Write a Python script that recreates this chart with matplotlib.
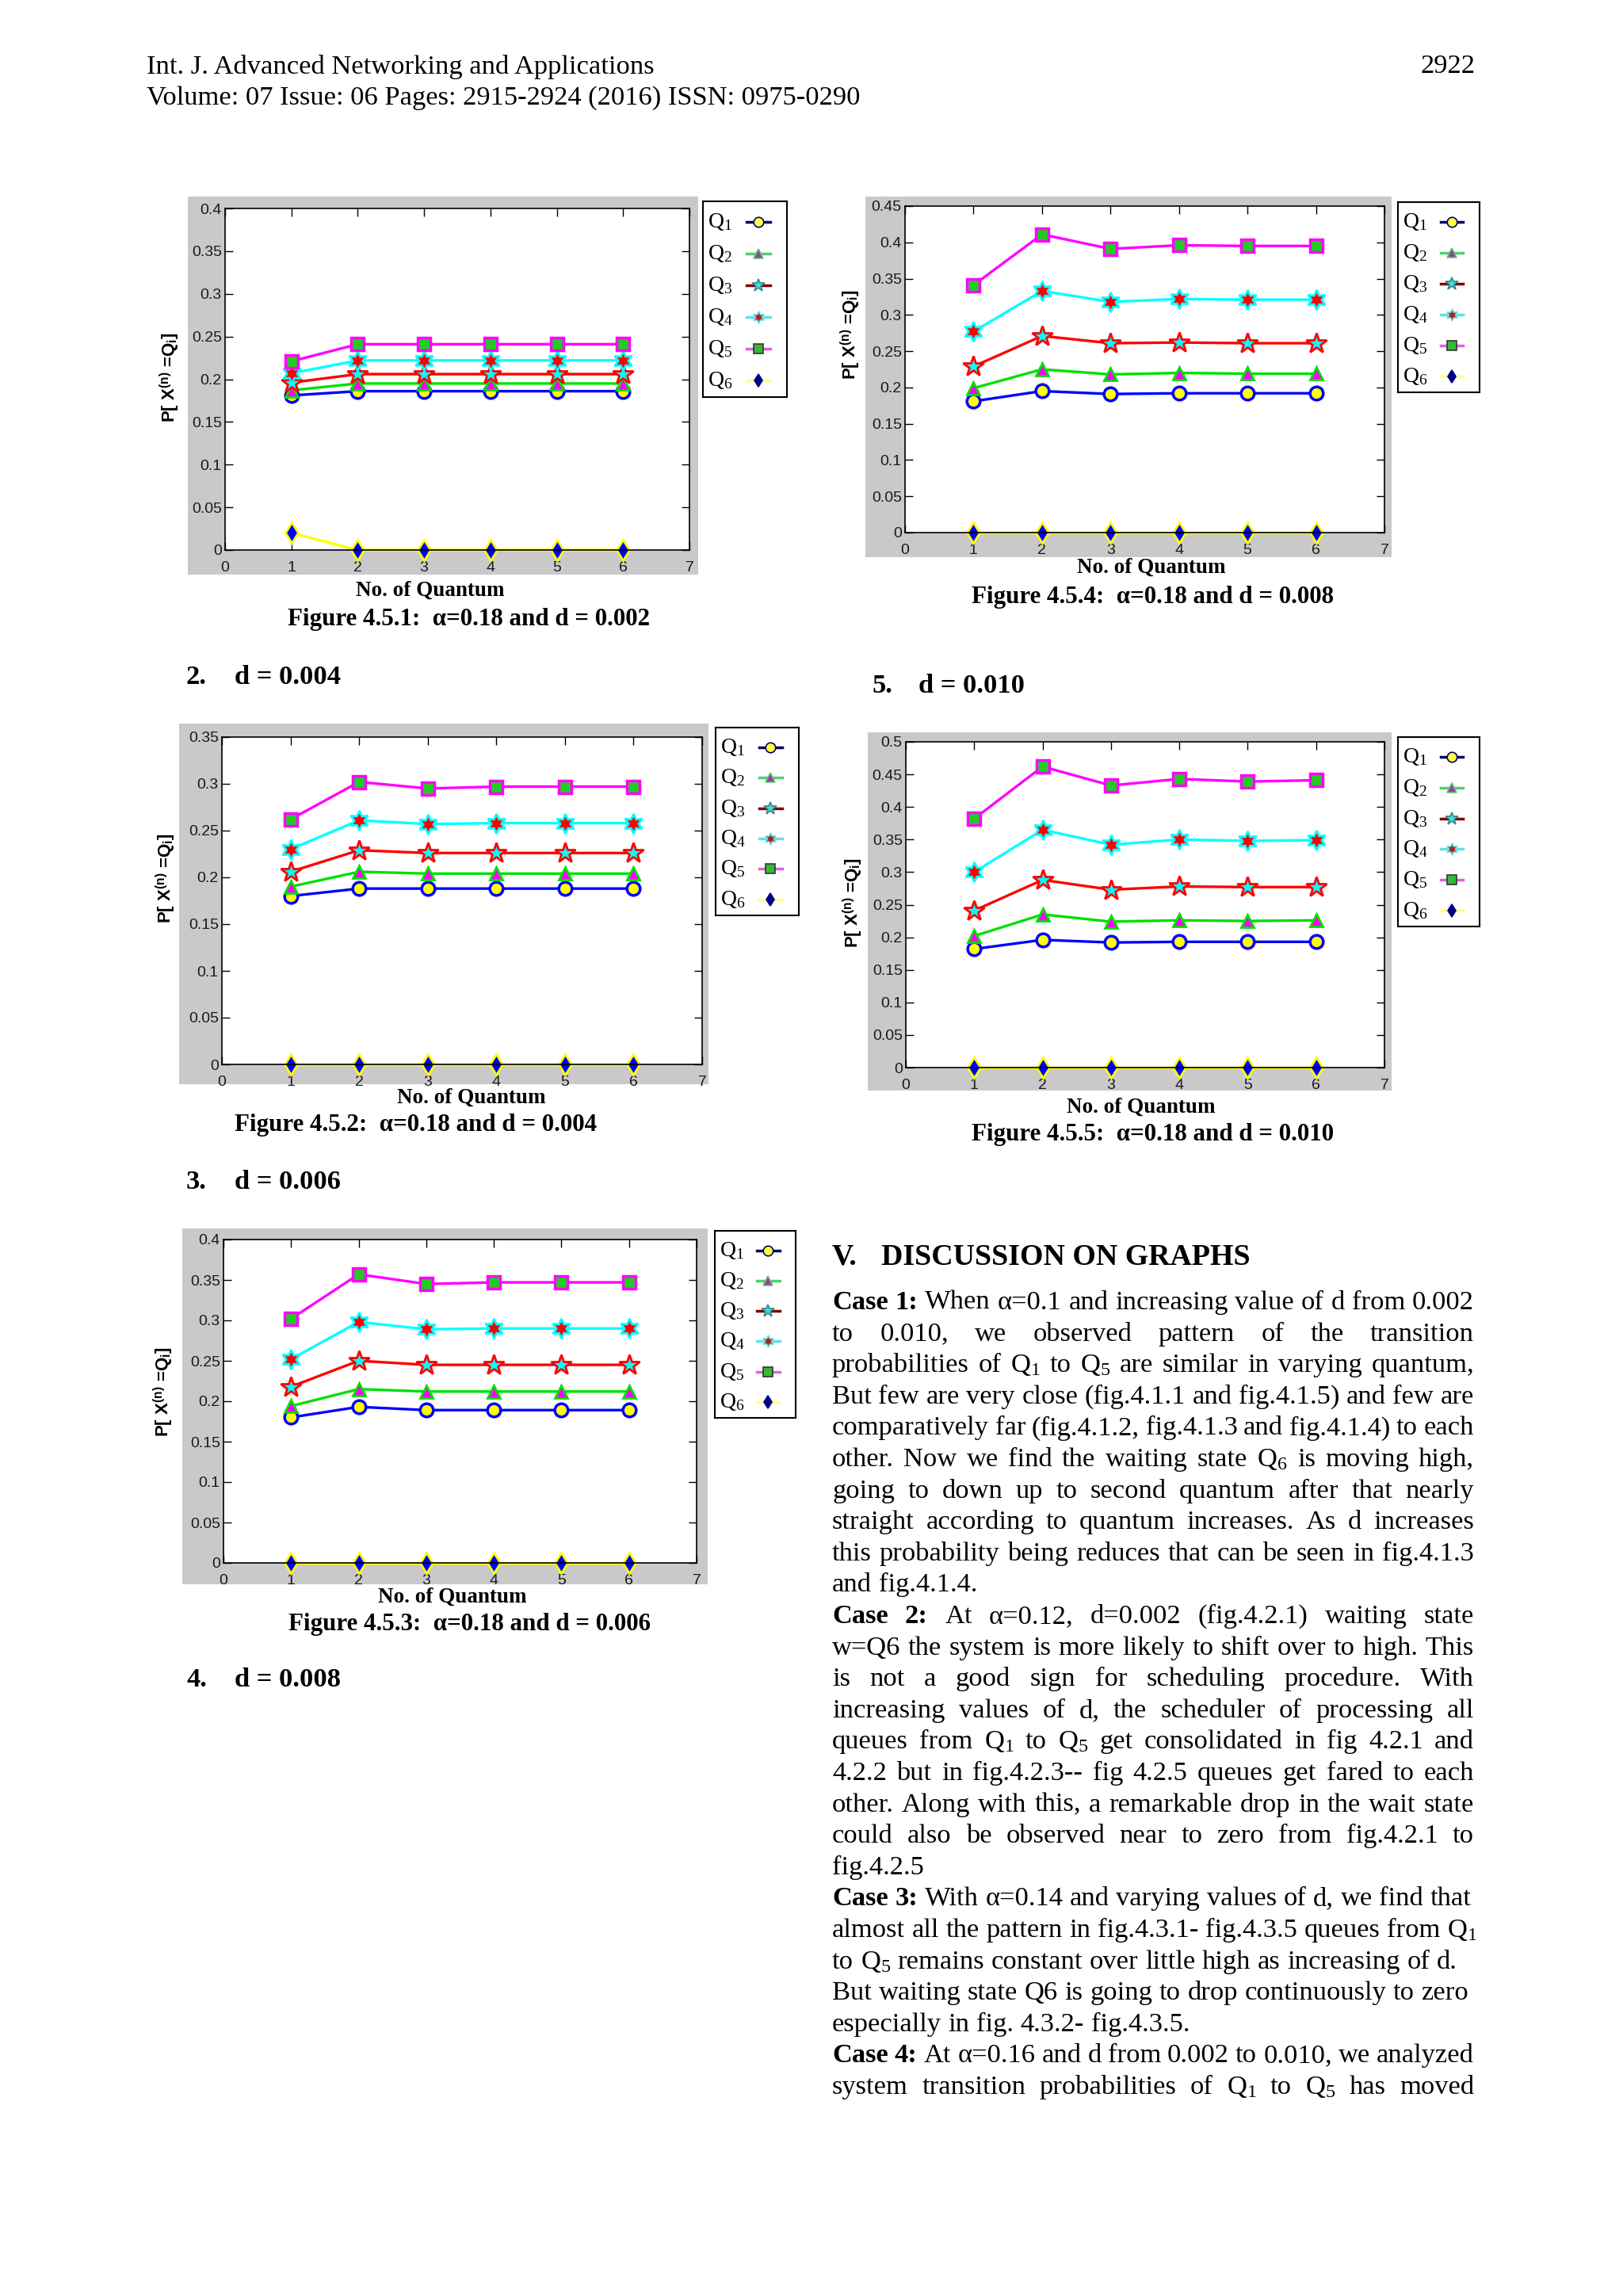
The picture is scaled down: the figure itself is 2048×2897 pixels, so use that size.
import numpy as np
import matplotlib
matplotlib.use('Agg')
import matplotlib.pyplot as plt
from matplotlib.patches import Rectangle

plt.rcParams['mathtext.fontset'] = 'custom'
plt.rcParams['mathtext.rm'] = 'Liberation Serif'
plt.rcParams['mathtext.it'] = 'Liberation Serif:italic'
plt.rcParams['mathtext.bf'] = 'Liberation Serif:bold'
plt.rcParams['mathtext.sf'] = 'Liberation Sans:bold'
plt.rcParams['mathtext.default'] = 'rm'

W, H = 2048, 2897
SERIF = 'Liberation Serif'
SANS = 'Liberation Sans'

quantum = [1, 2, 3, 4, 5, 6]
queue_names = ['Q$_1$', 'Q$_2$', 'Q$_3$', 'Q$_4$', 'Q$_5$', 'Q$_6$']

# rows: Q1 .. Q6, columns: quantum 1..6
fig451 = [[0.181, 0.186, 0.186, 0.186, 0.186, 0.186],
          [0.187, 0.195, 0.195, 0.195, 0.195, 0.195],
          [0.196, 0.206, 0.206, 0.206, 0.206, 0.206],
          [0.207, 0.222, 0.222, 0.222, 0.222, 0.222],
          [0.221, 0.241, 0.241, 0.241, 0.241, 0.241],
          [0.020, 0.0, 0.0, 0.0, 0.0, 0.0]]
fig452 = [[0.180, 0.188, 0.188, 0.188, 0.188, 0.188],
          [0.190, 0.206, 0.204, 0.204, 0.204, 0.204],
          [0.206, 0.229, 0.226, 0.226, 0.226, 0.226],
          [0.230, 0.261, 0.257, 0.258, 0.258, 0.258],
          [0.262, 0.302, 0.295, 0.297, 0.297, 0.297],
          [0.0, 0.0, 0.0, 0.0, 0.0, 0.0]]
fig453 = [[0.180, 0.193, 0.189, 0.189, 0.189, 0.189],
          [0.194, 0.215, 0.212, 0.212, 0.212, 0.212],
          [0.218, 0.250, 0.245, 0.245, 0.245, 0.245],
          [0.252, 0.298, 0.289, 0.290, 0.290, 0.290],
          [0.302, 0.357, 0.345, 0.347, 0.347, 0.347],
          [0.0, 0.0, 0.0, 0.0, 0.0, 0.0]]
fig454 = [[0.181, 0.195, 0.191, 0.192, 0.192, 0.192],
          [0.199, 0.225, 0.218, 0.220, 0.219, 0.219],
          [0.229, 0.271, 0.261, 0.262, 0.261, 0.261],
          [0.277, 0.333, 0.318, 0.322, 0.321, 0.321],
          [0.341, 0.411, 0.391, 0.396, 0.395, 0.395],
          [0.0, 0.0, 0.0, 0.0, 0.0, 0.0]]
fig455 = [[0.182, 0.196, 0.192, 0.193, 0.193, 0.193],
          [0.202, 0.235, 0.224, 0.226, 0.225, 0.226],
          [0.241, 0.288, 0.273, 0.278, 0.277, 0.277],
          [0.300, 0.365, 0.342, 0.350, 0.348, 0.349],
          [0.382, 0.462, 0.433, 0.443, 0.439, 0.441],
          [0.0, 0.0, 0.0, 0.0, 0.0, 0.0]]

# line colour, marker, face, edge, size, edge width
styles = [('#0000ff', 'o', '#ffff00', '#0000ff', 12, 2.5),
          ('#00e000', '^', '#ff00ff', '#00e000', 12, 2.0),
          ('#ff0000', '*', '#00ffff', '#ff0000', 19, 2.0),
          ('#00ffff', (6, 1, 0), '#ff0000', '#00ffff', 18, 2.0),
          ('#ff00ff', 's', '#22cc22', '#ff00ff', 12, 2.5),
          ('#ffff00', 'd', '#0000ff', '#ffff00', 13, 2.0)]
legend_styles = [('#000066', 'o', '#ffff44', '#000066', 9),
                 ('#55cc77', '^', '#aa33aa', '#55cc77', 9),
                 ('#800000', '*', '#44dddd', '#338888', 12),
                 ('#66e0e0', (6, 1, 0), '#aa2222', '#66e0e0', 11),
                 ('#e060e0', 's', '#33bb33', '#333333', 9),
                 ('#ffff88', 'd', '#000088', '#000088', 8)]

fig = plt.figure(figsize=(W / 100, H / 100), dpi=100)
fig.patch.set_facecolor('white')


def box(x0, y0, x1, y1):
    return [x0 / W, 1 - y1 / H, (x1 - x0) / W, (y1 - y0) / H]


def ftext(x, y, s, **kw):
    return fig.text(x / W, 1 - y / H, s, **kw)


def draw_chart(gray, axpos, legpos, values, ytop, xlab, ylab, caption, cap):
    fig.patches.append(Rectangle((gray[0] / W, 1 - gray[3] / H), (gray[2] - gray[0]) / W,
                                 (gray[3] - gray[1]) / H, transform=fig.transFigure,
                                 facecolor='#c9c9c9', edgecolor='none', zorder=-1))
    ax = fig.add_axes(box(*axpos))
    for vals, (lc, mk, fc, ec, ms, mew) in zip(values, styles):
        ax.plot(quantum, vals, color=lc, lw=2.4, marker=mk, ms=ms, mfc=fc, mec=ec,
                mew=mew, clip_on=False)
    ax.set_xlim(0, 7)
    ax.set_ylim(0, ytop)
    ax.set_xticks(range(8))
    yt = np.round(np.arange(0, ytop + 1e-9, 0.05), 2)
    ax.set_yticks(yt)
    ax.set_yticklabels([f'{v:g}' for v in yt])
    ax.tick_params(direction='in', top=True, right=True, length=7, width=1,
                   labelsize=14, labelcolor='#1a1a1a')
    ax.tick_params(axis='x', pad=10)
    ax.tick_params(axis='y', pad=3)
    for lab in ax.get_xticklabels() + ax.get_yticklabels():
        lab.set_fontfamily(SANS)
    for sp in ax.spines.values():
        sp.set_linewidth(1.2)

    ftext(xlab[0], xlab[1], 'No. of Quantum', family=SERIF, weight='bold', fontsize=19.5,
          ha='center', va='center')
    ftext(ylab[0], ylab[1], r'P[ X$^{\mathsf{(n)}}$ =Q$_{\mathsf{i}}$]', family=SANS,
          weight='bold', fontsize=16, rotation=90, ha='center', va='center')
    ftext(cap[0], cap[1], caption, family=SERIF, weight='bold', fontsize=22.3,
          ha='center', va='center')

    lax = fig.add_axes(box(*legpos))
    lax.set_xlim(0, 1)
    lax.set_ylim(0, 1)
    lax.set_xticks([])
    lax.set_yticks([])
    for sp in lax.spines.values():
        sp.set_linewidth(1.5)
    for i, (name, (lc, mk, fc, ec, ms)) in enumerate(zip(queue_names, legend_styles)):
        y = 1 - (0.105 + i * 0.162)
        lax.text(0.06, y, name, family=SERIF, fontsize=20, ha='left', va='center')
        lax.plot([0.52, 0.80], [y, y], color=lc, lw=2.5)
        lax.plot([0.66], [y], marker=mk, ms=ms, mfc=fc, mec=ec, mew=1.2, ls='none')


draw_chart((237, 248, 881, 725), (284, 263, 870, 694), (887, 254, 993, 501), fig451, 0.4,
           (543, 745), (214, 476), 'Figure 4.5.1:  α=0.18 and d = 0.002', (592, 782))
draw_chart((1092, 248, 1756, 703), (1142, 260, 1747, 672), (1764, 255, 1867, 495), fig454, 0.45,
           (1453, 716), (1073, 422), 'Figure 4.5.4:  α=0.18 and d = 0.008', (1455, 753))
draw_chart((226, 913, 894, 1368), (280, 930, 886, 1343), (903, 918, 1008, 1155), fig452, 0.35,
           (595, 1385), (209, 1108), 'Figure 4.5.2:  α=0.18 and d = 0.004', (525, 1419))
draw_chart((1095, 924, 1756, 1376), (1143, 936, 1747, 1347), (1764, 930, 1867, 1169), fig455, 0.5,
           (1440, 1397), (1076, 1139), 'Figure 4.5.5:  α=0.18 and d = 0.010', (1455, 1431))
draw_chart((230, 1550, 893, 1999), (282, 1564, 879, 1972), (902, 1553, 1004, 1789), fig453, 0.4,
           (571, 2015), (206, 1756), 'Figure 4.5.3:  α=0.18 and d = 0.006', (592, 2049))

# page header
BODY = 24.8
ftext(185, 84, 'Int. J. Advanced Networking and Applications', family=SERIF, fontsize=BODY,
      va='center', ha='left')
ftext(185, 124, 'Volume: 07 Issue: 06 Pages: 2915-2924 (2016) ISSN: 0975-0290', family=SERIF,
      fontsize=BODY, va='center', ha='left')
ftext(1862, 84, '2922', family=SERIF, fontsize=BODY, va='center', ha='right')

# section headings
for num, dtxt, x0, x1, y in [('2.', 'd = 0.004', 235, 296, 854),
                             ('3.', 'd = 0.006', 235, 296, 1491),
                             ('4.', 'd = 0.008', 235, 296, 2120),
                             ('5.', 'd = 0.010', 1100, 1159, 865)]:
    ftext(x0, y, num, family=SERIF, weight='bold', fontsize=BODY, va='center', ha='left')
    ftext(x1, y, dtxt, family=SERIF, weight='bold', fontsize=BODY, va='center', ha='left')

ftext(1050, 1586, 'V.', family=SERIF, weight='bold', fontsize=27.3, va='center', ha='left')
ftext(1112, 1586, 'DISCUSSION ON GRAPHS', family=SERIF, weight='bold', fontsize=27.3,
      va='center', ha='left')

body_lines = [
    ("Case 1:", "When α=0.1 and increasing value of d from 0.002", True),
    ("", "to 0.010, we observed pattern of the transition", True),
    ("", "probabilities of Q$_1$ to Q$_5$ are similar in varying quantum,", True),
    ("", "But few are very close (fig.4.1.1 and fig.4.1.5) and few are", True),
    ("", "comparatively far (fig.4.1.2, fig.4.1.3 and fig.4.1.4) to each", True),
    ("", "other. Now we find the waiting state Q$_6$ is moving high,", True),
    ("", "going to down up to second quantum after that nearly", True),
    ("", "straight according to quantum increases. As d increases", True),
    ("", "this probability being reduces that can be seen in fig.4.1.3", True),
    ("", "and fig.4.1.4.", False),
    ("Case 2:", "At α=0.12, d=0.002 (fig.4.2.1) waiting state", True),
    ("", "w=Q6 the system is more likely to shift over to high. This", True),
    ("", "is not a good sign for scheduling procedure. With", True),
    ("", "increasing values of d, the scheduler of processing all", True),
    ("", "queues from Q$_1$ to Q$_5$ get consolidated in fig 4.2.1 and", True),
    ("", "4.2.2 but in fig.4.2.3-- fig 4.2.5 queues get fared to each", True),
    ("", "other. Along with this, a remarkable drop in the wait state", True),
    ("", "could also be observed near to zero from fig.4.2.1 to", True),
    ("", "fig.4.2.5", False),
    ("Case 3:", "With α=0.14 and varying values of d, we find that", False),
    ("", "almost all the pattern in fig.4.3.1- fig.4.3.5 queues from Q$_1$", False),
    ("", "to Q$_5$ remains constant over little high as increasing of d.", False),
    ("", "But waiting state Q6 is going to drop continuously to zero", False),
    ("", "especially in fig. 4.3.2- fig.4.3.5.", False),
    ("Case 4:", "At α=0.16 and d from 0.002 to 0.010, we analyzed", True),
    ("", "system transition probabilities of Q$_1$ to Q$_5$ has moved", True),
]

renderer = fig.canvas.get_renderer()
X0, X1 = 1050, 1860
space = 0.25 * BODY * 100 / 72


def word_width(s, weight):
    t = ftext(0, 0, s, family=SERIF, fontsize=BODY, weight=weight)
    w = t.get_window_extent(renderer).width
    t.remove()
    return w


for i, (bold, rest, justify) in enumerate(body_lines):
    yb = 1641 + 39.6 * i + 11
    words = [(w, 'bold') for w in bold.split()] + [(w, 'normal') for w in rest.split()]
    widths = [word_width(w, wt) for w, wt in words]
    if justify and len(words) > 1:
        gap = (X1 - X0 - sum(widths)) / (len(words) - 1)
    else:
        gap = space
    x = X0
    for (w, wt), wd in zip(words, widths):
        ftext(x, yb, w, family=SERIF, fontsize=BODY, weight=wt, ha='left', va='baseline')
        x += wd + gap

fig.savefig('out.png', dpi=100, facecolor='white')
